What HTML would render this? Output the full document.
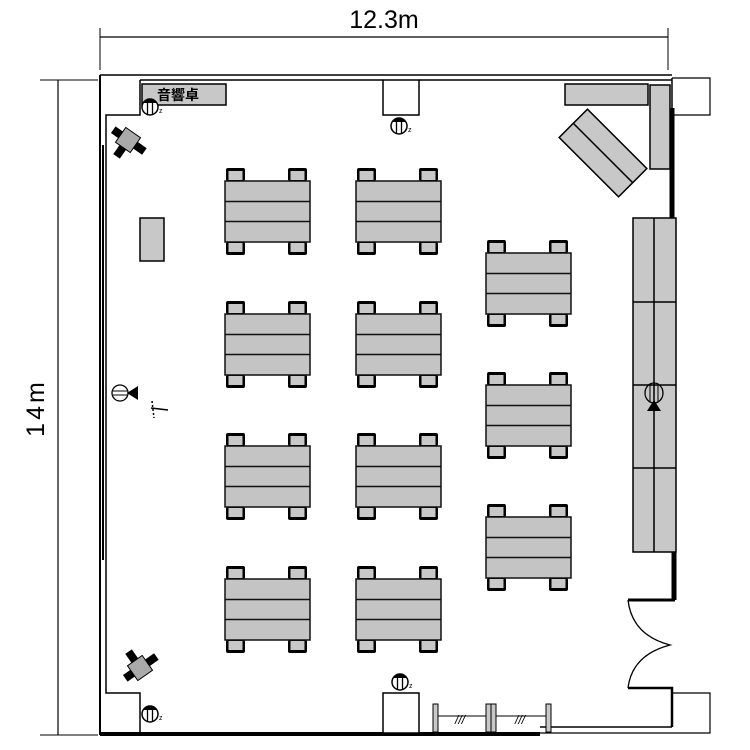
<!DOCTYPE html>
<html><head><meta charset="utf-8"><style>body{margin:0;background:#fff}svg{display:block}</style></head>
<body>
<svg width="750" height="750" viewBox="0 0 750 750" xmlns="http://www.w3.org/2000/svg">
<defs>
<g id="tbl">
 <rect x="1" y="-13" width="19" height="13" rx="2" fill="#000"/><rect x="3.5" y="-10" width="14" height="9" fill="#c8c8c8"/>
 <rect x="63" y="-13" width="19" height="13" rx="2" fill="#000"/><rect x="65.5" y="-10" width="14" height="9" fill="#c8c8c8"/>
 <rect x="1" y="61" width="19" height="13" rx="2" fill="#000"/><rect x="3.5" y="62" width="14" height="9" fill="#c8c8c8"/>
 <rect x="63" y="61" width="19" height="13" rx="2" fill="#000"/><rect x="65.5" y="62" width="14" height="9" fill="#c8c8c8"/>
 <rect x="0" y="0" width="85" height="61" fill="#c4c4c4" stroke="#111" stroke-width="1.5"/>
 <line x1="0" y1="20.5" x2="85" y2="20.5" stroke="#111" stroke-width="1.5"/>
 <line x1="0" y1="40.5" x2="85" y2="40.5" stroke="#111" stroke-width="1.5"/>
</g>
<g id="spk">
 <circle cx="0" cy="0" r="8" fill="#fff" stroke="#000" stroke-width="1.5"/>
 <path d="M-7,-4 A8,8 0 0 1 7,-4 Z" fill="#000"/>
 <line x1="-2.5" y1="-7" x2="-2.5" y2="7" stroke="#000" stroke-width="1.3"/>
 <line x1="2.5" y1="-7" x2="2.5" y2="7" stroke="#000" stroke-width="1.3"/>
 <text x="9" y="6" font-family="Liberation Sans, sans-serif" font-size="7">z</text>
</g>
</defs>
<!-- dimensions -->
<text x="384" y="28" font-family="Liberation Sans, sans-serif" font-size="25" text-anchor="middle">12.3m</text>
<line x1="100" y1="37" x2="668" y2="37" stroke="#000" stroke-width="1.2"/>
<line x1="100" y1="28" x2="100" y2="70" stroke="#000" stroke-width="1"/>
<line x1="668" y1="28" x2="668" y2="70" stroke="#000" stroke-width="1"/>
<line x1="58" y1="80" x2="58" y2="735" stroke="#000" stroke-width="1.2"/>
<line x1="40" y1="80" x2="98" y2="80" stroke="#000" stroke-width="1"/>
<line x1="40" y1="735" x2="98" y2="735" stroke="#000" stroke-width="1"/>
<text transform="translate(44,408) rotate(-90)" font-family="Liberation Sans, sans-serif" font-size="25" letter-spacing="3" text-anchor="middle">14m</text>
<!-- walls -->
<g fill="none" stroke="#000">
 <line x1="100" y1="75" x2="672" y2="75" stroke-width="1.5"/>
 <line x1="140" y1="80" x2="383" y2="80" stroke-width="1.5"/>
 <line x1="419" y1="80" x2="672" y2="80" stroke-width="1.5"/>
 <rect x="383" y="80" width="36" height="35" fill="#fff" stroke-width="1.5"/>
 <line x1="100" y1="75" x2="100" y2="735" stroke-width="2"/>
 <polyline points="140,80 140,115 106,115 106,693 140,693 140,733" stroke-width="1.5"/>
 <line x1="103" y1="145" x2="103" y2="560" stroke-width="2"/>
 <line x1="100" y1="734" x2="540" y2="734" stroke-width="4"/>
 <line x1="540" y1="727" x2="672" y2="727" stroke-width="1.5"/>
 <polyline points="672,693 710,693 710,733 540,733" stroke-width="1.2"/>
 <polyline points="672,78 710,78 710,115 672,115" stroke-width="1.2"/>
 <line x1="672" y1="78" x2="672" y2="218" stroke-width="1.5"/>
 <line x1="672" y1="108" x2="672" y2="218" stroke-width="5"/>
 <line x1="674" y1="552" x2="674" y2="600" stroke-width="5"/>
 <polyline points="628,600 675,600" stroke-width="3"/>
 <polyline points="628,688 672,688 672,727" stroke-width="2.5"/>
 <path d="M628,600 Q632,635 670,645 Q632,655 628,688" stroke-width="1.3"/>
 <rect x="383" y="693" width="36" height="40" fill="#fff" stroke-width="1.5"/>
</g>
<!-- stand -->
<g stroke="#000" fill="#c8c8c8" stroke-width="1">
 <line x1="436" y1="716" x2="546" y2="716"/>
 <rect x="433" y="704" width="5" height="28"/>
 <rect x="486" y="704" width="5" height="28"/><rect x="491" y="704" width="5" height="28"/>
 <rect x="546" y="704" width="5" height="28"/>
</g>
<text x="455" y="724" font-family="Liberation Sans, sans-serif" font-size="12" font-style="italic">///</text>
<text x="515" y="724" font-family="Liberation Sans, sans-serif" font-size="12" font-style="italic">///</text>
<!-- sound table -->
<rect x="142" y="84" width="84" height="21" fill="#c8c8c8" stroke="#000" stroke-width="1.5"/>
<text x="157" y="100" font-family="Liberation Sans, 'Noto Sans CJK JP', sans-serif" font-size="14" font-weight="bold">音響卓</text>
<use href="#spk" x="150" y="107"/>
<use href="#spk" x="399" y="126"/>
<use href="#spk" x="400" y="682"/>
<use href="#spk" x="150" y="714"/>
<!-- cameras -->
<g transform="translate(128,140) rotate(35)">
 <rect x="-18" y="-4" width="10" height="8" fill="#000"/><rect x="8" y="-4" width="12" height="8" fill="#000"/><rect x="-4" y="8" width="8" height="12" fill="#000"/>
 <rect x="-9" y="-9" width="18" height="18" fill="#aaa" stroke="#000"/>
</g>
<g transform="translate(140,668) rotate(-35)">
 <rect x="-18" y="-4" width="10" height="8" fill="#000"/><rect x="8" y="-4" width="12" height="8" fill="#000"/><rect x="-4" y="-20" width="8" height="12" fill="#000"/>
 <rect x="-9" y="-9" width="18" height="18" fill="#aaa" stroke="#000"/>
</g>
<rect x="140" y="218" width="24" height="43" fill="#c8c8c8" stroke="#000" stroke-width="1.5"/>
<!-- left mic -->
<circle cx="120" cy="393" r="8" fill="#fff" stroke="#000" stroke-width="1.3"/>
<line x1="113" y1="391" x2="127" y2="391" stroke="#000"/><line x1="113" y1="395" x2="127" y2="395" stroke="#000"/>
<path d="M127,393 L138,386 L138,400 Z" fill="#000"/>
<g stroke="#000" stroke-width="1.5"><line x1="151" y1="408" x2="168" y2="410"/><line x1="152" y1="401" x2="154" y2="418" stroke-dasharray="2 2"/></g>
<!-- tables -->
<use href="#tbl" x="225" y="181"/><use href="#tbl" x="356" y="181"/>
<use href="#tbl" x="225" y="314"/><use href="#tbl" x="356" y="314"/>
<use href="#tbl" x="225" y="446"/><use href="#tbl" x="356" y="446"/>
<use href="#tbl" x="225" y="579"/><use href="#tbl" x="356" y="579"/>
<use href="#tbl" x="486" y="253"/><use href="#tbl" x="486" y="385"/><use href="#tbl" x="486" y="517"/>
<!-- right furniture -->
<rect x="565" y="84" width="83" height="21" fill="#c8c8c8" stroke="#000" stroke-width="1.5"/>
<rect x="650" y="85" width="20" height="84" fill="#c8c8c8" stroke="#000" stroke-width="1.5"/>
<g transform="translate(603,153) rotate(45)">
 <rect x="-42" y="-20" width="84" height="40" fill="#c8c8c8" stroke="#000" stroke-width="1.5"/>
 <line x1="-42" y1="0" x2="42" y2="0" stroke="#000" stroke-width="1.5"/>
</g>
<g stroke="#000" stroke-width="1.5" fill="#c8c8c8">
 <rect x="633" y="218" width="43" height="334"/>
 <line x1="654" y1="218" x2="654" y2="552"/>
 <line x1="633" y1="302" x2="676" y2="302"/><line x1="633" y1="385" x2="676" y2="385"/><line x1="633" y1="468" x2="676" y2="468"/>
</g>
<ellipse cx="654" cy="393" rx="9" ry="10" fill="none" stroke="#000" stroke-width="1.3"/>
<line x1="650" y1="384" x2="650" y2="402" stroke="#000"/><line x1="658" y1="384" x2="658" y2="402" stroke="#000"/>
<path d="M654,400 L647,411 L661,411 Z" fill="#000"/>
</svg>
</body></html>
